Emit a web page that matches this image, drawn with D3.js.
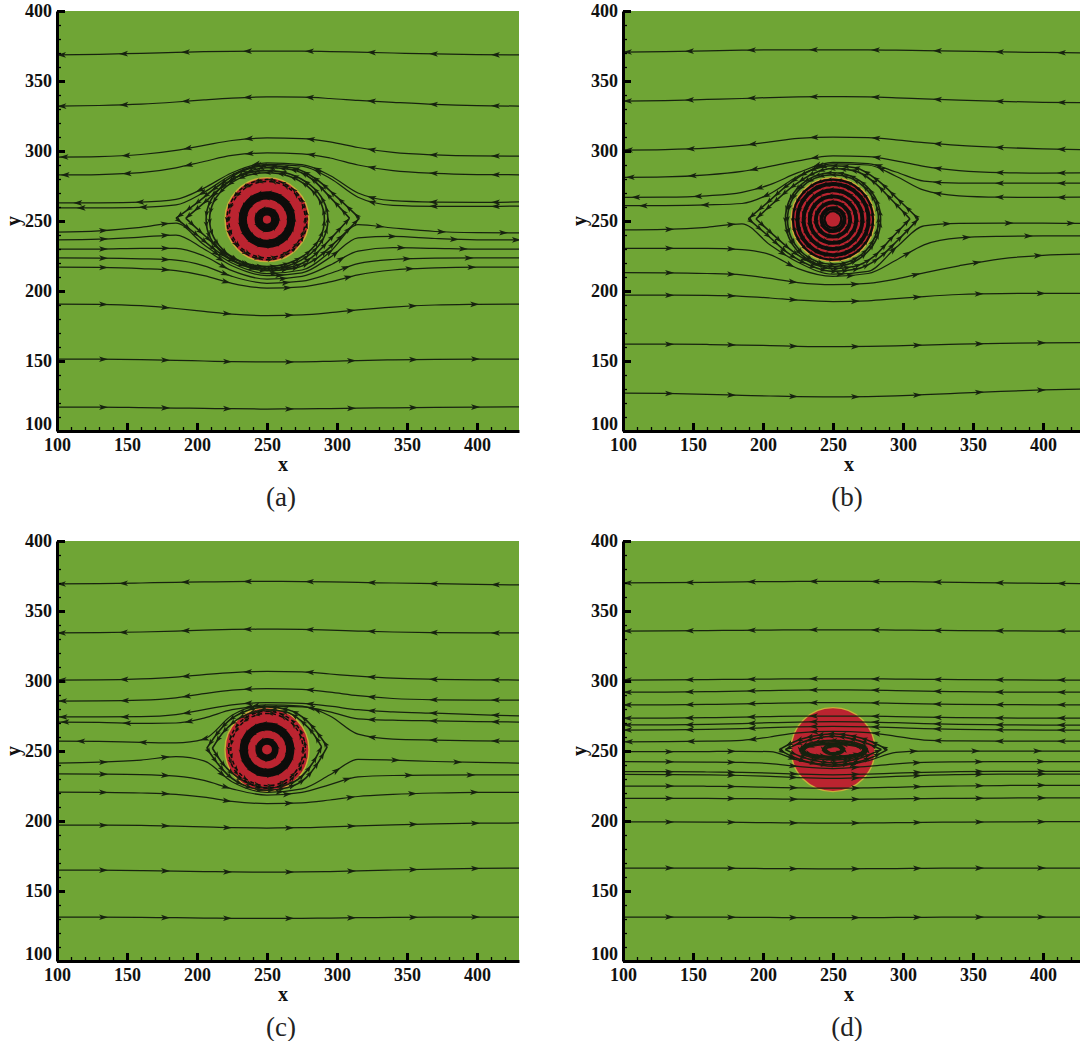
<!DOCTYPE html>
<html>
<head>
<meta charset="utf-8">
<script src="https://cdn.jsdelivr.net/npm/d3@7"></script>
<style>
  body { margin: 0; background: #ffffff; }
  svg { display: block; }
</style>
</head>
<body>
<svg id="fig" width="1080" height="1041"></svg>
<script>
// ---------- shared axis data ----------
const sampleX = [100, 130, 160, 185, 205, 225, 250, 275, 295, 315, 340, 370, 400, 430];
const xTickValues = [100, 150, 200, 250, 300, 350, 400];
const yTickValues = [100, 150, 200, 250, 300, 350, 400];
const panelNames = ["(a)", "(b)", "(c)", "(d)"];

// ---------- panel (a) ----------
const upperLinesA = [
  [368.6,369,369.8,370.4,370.9,371.2,371.4,371.3,371,370.6,370,369.3,368.8,368.6],
  [332,332.5,333.5,335,336.5,337.8,338.6,338.4,337.5,336.2,334.8,333.3,332.4,332.1],
  [295.7,296,297.5,300.5,304,307.5,309.3,308.8,306.5,302.5,299,297.2,296.5,296.4],
  [282.9,283.2,284.5,288,292.5,296.8,298.6,298,295,290,286,284,283.2,283],
  [262.9,263,263.5,265.5,273.5,284.5,291.5,290.2,282.5,270,264.5,263.5,263.3,263.6],
  [259.3,259.4,259.8,261.5,270.5,283,290.5,289.2,280.5,267,261.2,260.5,260.4,260.7]
];
const lowerLinesA = [
  [242,243,245.5,248.5,233,220,212.5,215,228,247.5,245,242.5,241.7,241.5],
  [236.5,237,238.5,240,230,218,211,213,224,238,239,237.5,236.6,236.5],
  [230,230,230.5,230.5,225,214.5,208.5,210.5,218.5,228.5,231,230.5,230,230],
  [223.6,223.5,223,222,218,210.5,205.5,207,212.5,219.5,222.5,223.5,223.6,223.6],
  [217,216.8,216,214.5,211,205.5,202,203,206.5,211.5,215,216.5,217,217],
  [190.7,190.5,189.5,187.5,185.5,183.5,182.5,183,184.5,186.5,188.5,190,190.5,190.7],
  [151.4,151.3,151,150.5,150,149.5,149.3,149.4,149.8,150.3,150.8,151.2,151.4,151.4],
  [117,117,116.7,116.4,116.1,115.9,115.7,115.8,116,116.3,116.6,116.9,117.1,117.2]
];
const eyeTopA = [
  [[185,252],[200,263],[215,275],[232,285.5],[250,289.5],[268,288],[285,280],[300,267],[316,252]],
  [[192,252],[205,263],[220,276],[236,285],[250,288],[266,287],[282,280],[296,266],[309,252]]
];
const eyeBottomA = [
  [[185,252],[200,240],[215,228],[232,218.5],[250,214.5],[268,216],[285,223],[300,236],[316,252]],
  [[192,252],[205,240],[220,227],[236,219],[250,216],[266,217],[282,224],[296,238],[309,252]]
];
const ovalsA = [[250,251,43.5,35],[250,251,41,33.5]];
const ringRadiiA = [3.8,5,6.2,7.4,8,15.2,16.4,17.6,18.8,19.4];
const edgeRingsA = [27.3, 28.6];

// ---------- panel (b) ----------
const upperLinesB = [
  [370.7,371,371.5,372,372.2,372.3,372.3,372.2,372,371.7,371.3,370.8,370.4,370],
  [335.7,336,336.8,337.5,338.2,338.6,338.8,338.6,338,337.2,336.3,335.4,334.8,334.5],
  [300.7,301,302,304,306.5,309,310,309.5,308,306,304,302.5,301.5,301],
  [281.2,281.5,283,285.5,289,293,296.5,296,293,289,286,284.5,284.2,284.3],
  [266.9,267,268,270.5,276,284.5,291.8,291,285,278.5,277,277,277,277],
  [260.9,261,261.5,262.5,269.5,282,290.8,290,282,272,268,267,266.8,267]
];
const lowerLinesB = [
  [243.6,244,245.5,248,233,220.5,212,214,231,246.5,248.3,248.5,248.4,248.3],
  [230.5,230.5,230.5,229.5,226,216,210.5,212.5,222,233,238,239,239.3,239.3],
  [213.1,213,212.5,211.5,209,206,204.5,205.5,208.5,213,218,223,225.5,226.4],
  [197.1,197,196.8,196.2,195,193.5,192.5,193,194.5,196,197.5,198.2,198.3,198.3],
  [162.1,162,161.8,161.4,161,160.5,160.2,160.4,160.8,161.4,162,162.6,163,163.2],
  [127.1,126.8,126.2,125.5,125,124.6,124.4,124.6,125.1,125.9,127,128.3,129.3,130]
];
const eyeTopB = [
  [[189.5,251.5],[203,263],[218,276],[234,286],[250,289.5],[266,288],[282,279],[297,265],[311,251.5]],
  [[195,251.5],[207,262.5],[221,274.5],[236,284],[250,287.5],[265,286],[279,278],[292,265],[305,251.5]]
];
const eyeBottomB = [
  [[189.5,251.5],[203,240],[218,227],[234,218],[250,214],[266,215.5],[282,223],[297,237],[311,251.5]],
  [[195,251.5],[207,240.5],[221,228.5],[236,219.5],[250,216],[265,217.5],[279,224.5],[292,238],[305,251.5]]
];
const ovalsB = [[250,251,32.5,32],[250,251,34,33.5]];
const ringRadiiB = [6,7.6,8.8,11.6,12.8,16,17.2,20.4,21.6,24.8,26,28.6];
const edgeRingsB = [];

// ---------- panel (c) ----------
const upperLinesC = [
  [369.3,369.5,370,370.5,370.8,371,371.1,371,370.8,370.4,370,369.5,369,368.6],
  [334.3,334.5,335,335.7,336.3,336.8,337,336.8,336.3,335.7,335,334.6,334.4,334.3],
  [300.7,300.8,301.5,302.8,304.5,306,306.8,306.5,305,303.5,302,301.2,300.8,300.7],
  [285.7,285.8,286.3,288,291,293.5,294.5,294,292,289.5,287.5,286.6,286.4,286.4],
  [274.3,274.3,274.5,276,279.5,283,284.5,284,282,279.5,278,277,276,275],
  [270.7,270.5,269.8,270,273.5,279.5,282,281.5,278,273,272,271.5,271,270.7],
  [257.1,256.8,256.2,255.8,258.5,275.5,283,282,275,262,258.5,257.8,257.3,257]
];
const lowerLinesC = [
  [241.4,242,243.5,246,243,228,220.5,223,233,244,243.5,242.5,241.8,241.4],
  [233.6,233.5,233.2,232,229,223,218.5,220.5,226,231.5,232.5,232.8,232.9,232.9],
  [220.7,220.5,220,219,217,214,212.5,213,215,217.5,219,220,220.5,220.5],
  [197.1,197,196.8,196.4,195.8,195.2,195,195.2,195.8,196.5,197.3,198,198.4,198.6],
  [165,164.9,164.6,164.2,163.9,163.6,163.5,163.6,163.9,164.4,165,165.6,166.1,166.4],
  [131.4,131.3,131.1,130.9,130.7,130.5,130.4,130.5,130.7,130.9,131.1,131.3,131.4,131.4]
];
const eyeTopC = [
  [[207,252],[214,262],[222,271],[235,278.5],[250,281.5],[265,279.5],[278,272],[286,263],[293,253]],
  [[211,252],[218,262.5],[226,270.5],[238,277],[250,279.5],[263,278],[275,271],[283,262.5],[289,253]]
];
const eyeBottomC = [
  [[207,252],[214,242],[222,233],[235,225],[250,222],[265,224],[278,231],[286,241],[293,253]],
  [[211,252],[218,241.5],[226,233.5],[238,226.5],[250,223.5],[263,225.5],[275,232],[283,242],[289,253]]
];
const ovalsC = [];
const ringRadiiC = [4.4,5.4,6.4,7.4,14.5,15.7,16.9,18.1,18.7];
const edgeRingsC = [25.8, 27.4];

// ---------- panel (d) ----------
const upperLinesD = [
  [370,370.2,370.5,370.8,371,371.1,371.2,371.1,371,370.8,370.5,370.1,369.8,369.5],
  [335.7,335.8,336,336.2,336.4,336.5,336.6,336.5,336.4,336.2,336,335.8,335.7,335.7],
  [300.7,300.8,301,301.2,301.4,301.5,301.6,301.5,301.4,301.2,301,300.8,300.7,300.7],
  [292,292.1,292.4,292.8,293.2,293.5,293.6,293.5,293.2,292.8,292.4,292.1,292,292],
  [282.9,283,283.3,283.7,284.1,284.4,284.5,284.4,284.1,283.7,283.3,283.1,283,283],
  [273.4,273.5,273.8,274.2,274.6,274.9,275,274.9,274.6,274.2,273.8,273.6,273.5,273.5],
  [268.6,268.7,269,269.6,270.2,270.7,271,270.7,270.2,269.6,269,268.7,268.5,268.5],
  [265,265.1,265.4,266,266.7,267.3,267.6,267.3,266.7,266,265.4,265.1,265,265],
  [256.6,256.7,257,257.6,260,263,264,263.2,260.5,257.8,257.2,257,257,257]
];
const lowerLinesD = [
  [249.5,249.5,249.6,249.8,249.5,243.5,239,243,249,250,250,250,250,250],
  [242.4,242.3,242.1,241.8,241,239,237.5,239,240.8,241.8,242.2,242.4,242.5,242.5],
  [235.2,235.2,235,234.7,234.2,233.5,233,233.5,234.2,234.8,235.2,235.4,235.5,235.5],
  [233.3,233.2,233,232.5,231.8,231,230.5,231,231.8,232.6,233.1,233.4,233.5,233.5],
  [225,225,224.8,224.5,224.1,223.7,223.4,223.7,224.1,224.6,225,225.3,225.5,225.5],
  [216.2,216.2,216.1,216,215.8,215.6,215.5,215.6,215.8,216,216.2,216.4,216.5,216.5],
  [199.3,199.3,199.2,199,198.8,198.6,198.5,198.6,198.8,199,199.2,199.4,199.5,199.5],
  [166.4,166.4,166.3,166.2,166,165.9,165.8,165.9,166,166.2,166.3,166.4,166.4,166.4],
  [131.4,131.4,131.3,131.2,131.1,131,131,131,131.1,131.2,131.3,131.4,131.4,131.4]
];
const eyeTopD = [
  [[211.6,251],[222,256.5],[235,260.5],[250,262.3],[265,260.5],[278,256.5],[288.8,251]],
  [[216,251],[226,255.5],[238,259],[250,260.5],[262,259],[274,255.5],[284.5,251]]
];
const eyeBottomD = [
  [[211.6,251],[222,245.5],[235,241.5],[250,240],[265,241.5],[278,245.5],[288.8,251]],
  [[216,251],[226,246.5],[238,243],[250,241.5],[262,243],[274,246.5],[284.5,251]]
];
const ovalsD = [
  [250.5,250.6,24,7],[250.5,250.6,23,6],[250.5,250.6,22,5],[250.5,250.6,21,4.3],
  [250.5,251,7.5,3.8],[250.5,251,6.5,3],[250.5,251,5.5,2.3]
];
const ringRadiiD = [];
const edgeRingsD = [];

// cylinder: centre x, centre y, radius
const disc = [250, 251, 30];

const panels = [
  { name: panelNames[0], upper: upperLinesA, lower: lowerLinesA, eyeTop: eyeTopA, eyeBottom: eyeBottomA, ovals: ovalsA, rings: ringRadiiA, edges: edgeRingsA, ringWidth: 2.4 },
  { name: panelNames[1], upper: upperLinesB, lower: lowerLinesB, eyeTop: eyeTopB, eyeBottom: eyeBottomB, ovals: ovalsB, rings: ringRadiiB, edges: edgeRingsB, ringWidth: 2.2 },
  { name: panelNames[2], upper: upperLinesC, lower: lowerLinesC, eyeTop: eyeTopC, eyeBottom: eyeBottomC, ovals: ovalsC, rings: ringRadiiC, edges: edgeRingsC, ringWidth: 2.4 },
  { name: panelNames[3], upper: upperLinesD, lower: lowerLinesD, eyeTop: eyeTopD, eyeBottom: eyeBottomD, ovals: ovalsD, rings: ringRadiiD, edges: edgeRingsD, ringWidth: 2 }
];

// ---------- drawing ----------
const W = 462, H = 420;
const origins = [[57, 11], [623, 11], [57, 541], [623, 541]];
const GREEN = "#6fa535";
const RED = "#bb2430";
const INK = "#17220f";

const x = d3.scaleLinear().domain([100, 430]).range([0, W]);
const y = d3.scaleLinear().domain([100, 400]).range([H, 0]);
const line = d3.line().x(d => x(d[0])).y(d => y(d[1])).curve(d3.curveMonotoneX);

const svg = d3.select("#fig");
const defs = svg.append("defs");
defs.append("clipPath").attr("id", "plotClip")
  .append("rect").attr("width", W).attr("height", H);

function arrowPath(len, half) {
  return `M${len * 0.45},0 L${-len * 0.55},${-half} L${-len * 0.3},0 L${-len * 0.55},${half} Z`;
}

// arrowheads spaced along a drawn path; dir = +1 follows the path, -1 runs against it
function arrowsOnPath(layer, node, dir, offset, spacing, len, half) {
  const L = node.getTotalLength();
  const marks = [];
  const clamp = v => Math.max(0, Math.min(L, v));
  for (let s = offset; s < L - 2; s += spacing) {
    const at = dir > 0 ? s : L - s;
    const p = node.getPointAtLength(at);
    const a = node.getPointAtLength(clamp(at - dir * 1.2));
    const b = node.getPointAtLength(clamp(at + dir * 1.2));
    marks.push({ x: p.x, y: p.y, a: Math.atan2(b.y - a.y, b.x - a.x) * 180 / Math.PI });
  }
  layer.selectAll(null).data(marks).join("path")
    .attr("d", arrowPath(len, half))
    .attr("fill", INK)
    .attr("transform", d => `translate(${d.x},${d.y}) rotate(${d.a})`);
}

// arrowheads on a closed elliptic streamline, rotating counter-clockwise
function arrowsOnEllipse(layer, e, spacing, len, half, phase) {
  const cx = x(e[0]), cy = y(e[1]);
  const rx = x(e[0] + e[2]) - cx, ry = cy - y(e[1] + e[3]);
  const per = Math.PI * (3 * (rx + ry) - Math.sqrt((3 * rx + ry) * (rx + 3 * ry)));
  const n = Math.max(4, Math.round(per / spacing));
  const marks = d3.range(n).map(k => {
    const t = phase + 2 * Math.PI * k / n;
    return {
      x: cx + rx * Math.cos(t), y: cy - ry * Math.sin(t),
      a: Math.atan2(-ry * Math.cos(t), -rx * Math.sin(t)) * 180 / Math.PI
    };
  });
  layer.selectAll(null).data(marks).join("path")
    .attr("d", arrowPath(len, half))
    .attr("fill", INK)
    .attr("transform", d => `translate(${d.x},${d.y}) rotate(${d.a})`);
}

panels.forEach((pd, i) => {
  const g = svg.append("g").attr("transform", `translate(${origins[i][0]},${origins[i][1]})`);
  const plot = g.append("g").attr("clip-path", "url(#plotClip)");

  plot.append("rect").attr("width", W).attr("height", H).attr("fill", GREEN);

  // rotating cylinder
  plot.append("circle")
    .attr("cx", x(disc[0])).attr("cy", y(disc[1]))
    .attr("r", x(disc[0] + disc[2]) - x(disc[0]))
    .attr("fill", RED).attr("stroke", "#c8b03a").attr("stroke-width", 1.4);

  const lines = plot.append("g").attr("fill", "none").attr("stroke", INK).attr("stroke-width", 1.25);
  const arrows = plot.append("g");

  // open streamlines: upper ones run leftwards, lower ones rightwards
  pd.upper.forEach(ys => {
    const node = lines.append("path").attr("d", line(sampleX.map((v, k) => [v, ys[k]]))).node();
    arrowsOnPath(arrows, node, -1, 24, 62, 9, 2.8);
  });
  pd.lower.forEach(ys => {
    const node = lines.append("path").attr("d", line(sampleX.map((v, k) => [v, ys[k]]))).node();
    arrowsOnPath(arrows, node, 1, 47, 62, 9, 2.8);
  });

  // separatrix halves around the vortex
  const eye = plot.append("g").attr("fill", "none").attr("stroke", INK).attr("stroke-width", 1.6);
  pd.eyeTop.forEach((pts, k) => {
    const node = eye.append("path").attr("d", line(pts)).node();
    arrowsOnPath(arrows, node, -1, 4 + 5 * k, 11, 7, 2.6);
  });
  pd.eyeBottom.forEach((pts, k) => {
    const node = eye.append("path").attr("d", line(pts)).node();
    arrowsOnPath(arrows, node, 1, 4 + 5 * k, 11, 7, 2.6);
  });

  // closed elliptic streamlines
  pd.ovals.forEach((e, k) => {
    eye.append("ellipse")
      .attr("cx", x(e[0])).attr("cy", y(e[1]))
      .attr("rx", x(e[0] + e[2]) - x(e[0]))
      .attr("ry", y(e[1]) - y(e[1] + e[3]));
    arrowsOnEllipse(arrows, e, 12, 6.5, 2.4, k * 0.4);
  });

  // concentric circular streamlines inside the cylinder
  const rings = plot.append("g").attr("fill", "none").attr("stroke", "#0d0d0b").attr("stroke-width", pd.ringWidth);
  pd.rings.forEach((r, k) => {
    rings.append("circle")
      .attr("cx", x(disc[0])).attr("cy", y(disc[1]))
      .attr("r", x(disc[0] + r) - x(disc[0]));
    if (r > 5) arrowsOnEllipse(arrows, [disc[0], disc[1], r, r], 10, 5.5, 2.2, k * 0.7);
  });
  // broken streamlines close to the cylinder wall
  pd.edges.forEach((r, k) => {
    rings.append("circle")
      .attr("cx", x(disc[0])).attr("cy", y(disc[1]))
      .attr("r", x(disc[0] + r) - x(disc[0]))
      .attr("stroke-width", 1.5)
      .attr("stroke-dasharray", "4 3")
      .attr("stroke-dashoffset", k * 3);
    arrowsOnEllipse(arrows, [disc[0], disc[1], r, r], 13, 5.5, 2.2, k * 0.5);
  });

  // axes
  const fontFam = "'Liberation Serif', 'Times New Roman', serif";
  const xMinor = d3.range(110, 430, 10).filter(v => v % 50 !== 0);
  const yMinor = d3.range(110, 400, 10).filter(v => v % 50 !== 0);

  const xAxis = g.append("g").attr("transform", `translate(0,${H})`)
    .call(d3.axisBottom(x).tickValues(xTickValues).tickSize(-8).tickSizeOuter(0).tickPadding(7).tickFormat(d3.format("d")));
  g.append("g").attr("transform", `translate(0,${H})`)
    .call(d3.axisBottom(x).tickValues(xMinor).tickSize(-4).tickSizeOuter(0).tickFormat(""))
    .call(a => a.select(".domain").remove());
  const yAxis = g.append("g")
    .call(d3.axisLeft(y).tickValues(yTickValues).tickSize(-8).tickSizeOuter(0).tickPadding(5).tickFormat(d3.format("d")));
  g.append("g")
    .call(d3.axisLeft(y).tickValues(yMinor).tickSize(-4).tickSizeOuter(0).tickFormat(""))
    .call(a => a.select(".domain").remove());

  g.selectAll(".domain").attr("stroke", "#000").attr("stroke-width", 3);
  g.selectAll(".tick line").attr("stroke", "#000").attr("stroke-width", 1.3);
  [xAxis, yAxis].forEach(a => a.selectAll(".tick line").attr("stroke-width", 3));
  [xAxis, yAxis].forEach(a => a.selectAll("text")
    .attr("font-family", fontFam).attr("font-weight", "bold").attr("font-size", 18).attr("fill", "#111"));
  // the lowest y label sits just above the shared corner
  yAxis.selectAll(".tick").filter(d => d === 100).select("text").attr("dy", "-0.1em");

  // axis titles
  g.append("text").attr("x", 226).attr("y", H + 40)
    .attr("text-anchor", "middle").attr("font-family", fontFam).attr("font-weight", "bold")
    .attr("font-size", 20).attr("fill", "#111").text("x");
  g.append("text").attr("transform", `translate(-37,${y(250)}) rotate(-90)`)
    .attr("text-anchor", "middle").attr("font-family", fontFam).attr("font-weight", "bold")
    .attr("font-size", 20).attr("fill", "#111").text("y");

  // panel caption
  g.append("text").attr("x", 224).attr("y", H + 75)
    .attr("text-anchor", "middle").attr("font-family", fontFam)
    .attr("font-size", 27).attr("fill", "#222").text(pd.name);
});
</script>
</body>
</html>
